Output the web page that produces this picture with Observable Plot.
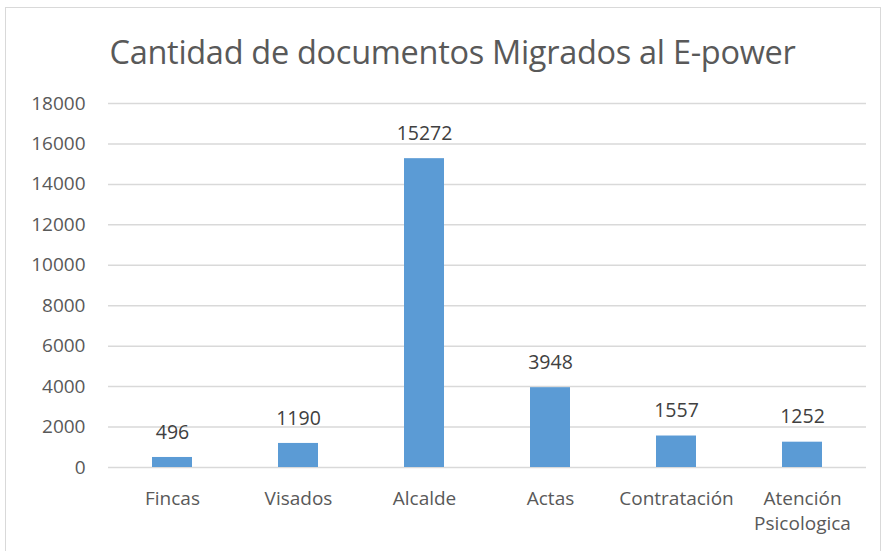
<!DOCTYPE html>
<html><head><meta charset="utf-8">
<script src="https://cdn.jsdelivr.net/npm/d3@7"></script>
<script src="https://cdn.jsdelivr.net/npm/@observablehq/plot@0.6"></script>
<style>
body{margin:0;background:#fff;}
#wrap{position:relative;width:885px;height:551px;}
#frame{position:absolute;left:5px;top:7px;width:876px;height:550px;border:1px solid #d9d9d9;box-sizing:border-box;}
#title{position:absolute;left:0;width:905px;top:29px;text-align:center;font-family:"Open Sans",sans-serif;font-size:32.5px;color:#595959;letter-spacing:-0.3px;}
#chart{position:absolute;left:0;top:0;}
</style></head>
<body><div id="wrap"><div id="frame"></div><div id="title">Cantidad de documentos Migrados al E-power</div><div id="chart"></div></div>
<script>
const categories = ["Fincas","Visados","Alcalde","Actas","Contratación","Atención\nPsicologica"];
const values = [496,1190,15272,3948,1557,1252];
const yTicks = [0,2000,4000,6000,8000,10000,12000,14000,16000,18000];
const data = categories.map((c,i)=>({c, v: values[i]}));
const plot = Plot.plot({
  width: 885, height: 551,
  marginLeft: 108, marginRight: 19, marginTop: 103, marginBottom: 84,
  style: {fontFamily: '"Open Sans", sans-serif', fontSize: "16px", color: "#595959", background: "transparent"},
  x: {domain: categories, paddingInner: 0.683, paddingOuter: 0.3415, label: null},
  y: {domain: [0,18000], label: null},
  marks: [
    Plot.gridY(yTicks, {stroke: "#d9d9d9", strokeOpacity: 1, strokeWidth: 1.5}),
    Plot.barY(data, {x: "c", y: "v", fill: "#5b9bd5"}),
    Plot.text(data, {x: "c", y: "v", text: d => String(d.v), dy: -25, fontSize: 19.5, fill: "#404040"}),
    Plot.axisX({tickSize: 0, tickPadding: 20, fontSize: 19, lineHeight: 1.3, textAnchor: "middle"}),
    Plot.axisY(yTicks, {tickSize: 0, tickPadding: 23, fontSize: 19, tickFormat: d => String(d)})
  ]
});
document.getElementById("chart").appendChild(plot);
</script></body></html>
